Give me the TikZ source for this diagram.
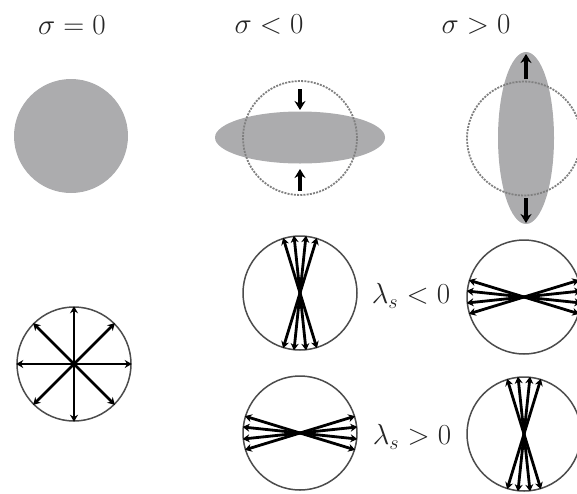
\documentclass[tikz,border=0pt]{standalone}
\usetikzlibrary{arrows.meta,shapes.geometric}
\definecolor{blobgray}{RGB}{172,172,174}
\tikzset{
  fan/.style={line width=2.8pt, -{Stealth[length=7pt,width=8pt]}},
  push/.style={line width=3.8pt, -{Stealth[length=9pt,width=11pt]}},
  ring/.style={circle, draw=black!70, line width=1.5pt, minimum size=114pt, inner sep=0pt},
  dashring/.style={circle, draw=black!50, dash pattern=on 2pt off 1.2pt, line width=1.8pt, minimum size=114pt, inner sep=0pt},
  blob/.style={fill=blobgray, draw=none},
  lab/.style={font=\LARGE, scale=1.68, text=black!85}
}
\begin{document}
\begin{tikzpicture}[x=1pt,y=-1pt]
\useasboundingbox (0,0) rectangle (577,493);
% titles
\node[lab] (t0) at (72,25) {$\sigma=0$};
\node[lab] (t1) at (269,25) {$\sigma<0$};
\node[lab] (t2) at (476,25) {$\sigma>0$};
% sigma = 0 disc
\node[blob, circle, minimum size=114pt, inner sep=0pt] (d0) at (71,136) {};
% sigma < 0
\node[blob, ellipse, minimum width=170pt, minimum height=52pt, inner sep=0pt] (e1) at (300,137.5) {};
\node[dashring] (c1) at (300,138) {};
\coordinate (a1s) at (300,89);
\coordinate (a1e) at (300,110);
\coordinate (b1s) at (300,191);
\coordinate (b1e) at (300,169);
\draw[push] (a1s) -- (a1e);
\draw[push] (b1s) -- (b1e);
% sigma > 0
\node[blob, ellipse, minimum width=56pt, minimum height=172pt, inner sep=0pt] (e2) at (526,138) {};
\node[dashring] (c2) at (524,138.5) {};
\coordinate (a2s) at (526,79);
\coordinate (a2e) at (526,54);
\coordinate (b2s) at (526,198);
\coordinate (b2e) at (526,223);
\draw[push] (a2s) -- (a2e);
\draw[push] (b2s) -- (b2e);
% isotropic
\node[ring] (r0) at (74,364) {};
\foreach \a in {0,45,...,315} \draw[fan] (r0.center) -- (r0.\a);
% lambda_s < 0 row
\node[ring] (r1) at (300,293) {};
\foreach \a in {73,84,96,107,253,264,276,287} \draw[fan] (r1.center) -- (r1.\a);
\node[lab] (l1) at (411,296) {$\lambda_s<0$};
\node[ring] (r2) at (524,297) {};
\foreach \a in {-17,-6,6,17,163,174,186,197} \draw[fan] (r2.center) -- (r2.\a);
% lambda_s > 0 row
\node[ring] (r3) at (300,433) {};
\foreach \a in {-17,-6,6,17,163,174,186,197} \draw[fan] (r3.center) -- (r3.\a);
\node[lab] (l2) at (412,437) {$\lambda_s>0$};
\node[ring] (r4) at (524,434) {};
\foreach \a in {73,84,96,107,253,264,276,287} \draw[fan] (r4.center) -- (r4.\a);
\end{tikzpicture}
\end{document}
